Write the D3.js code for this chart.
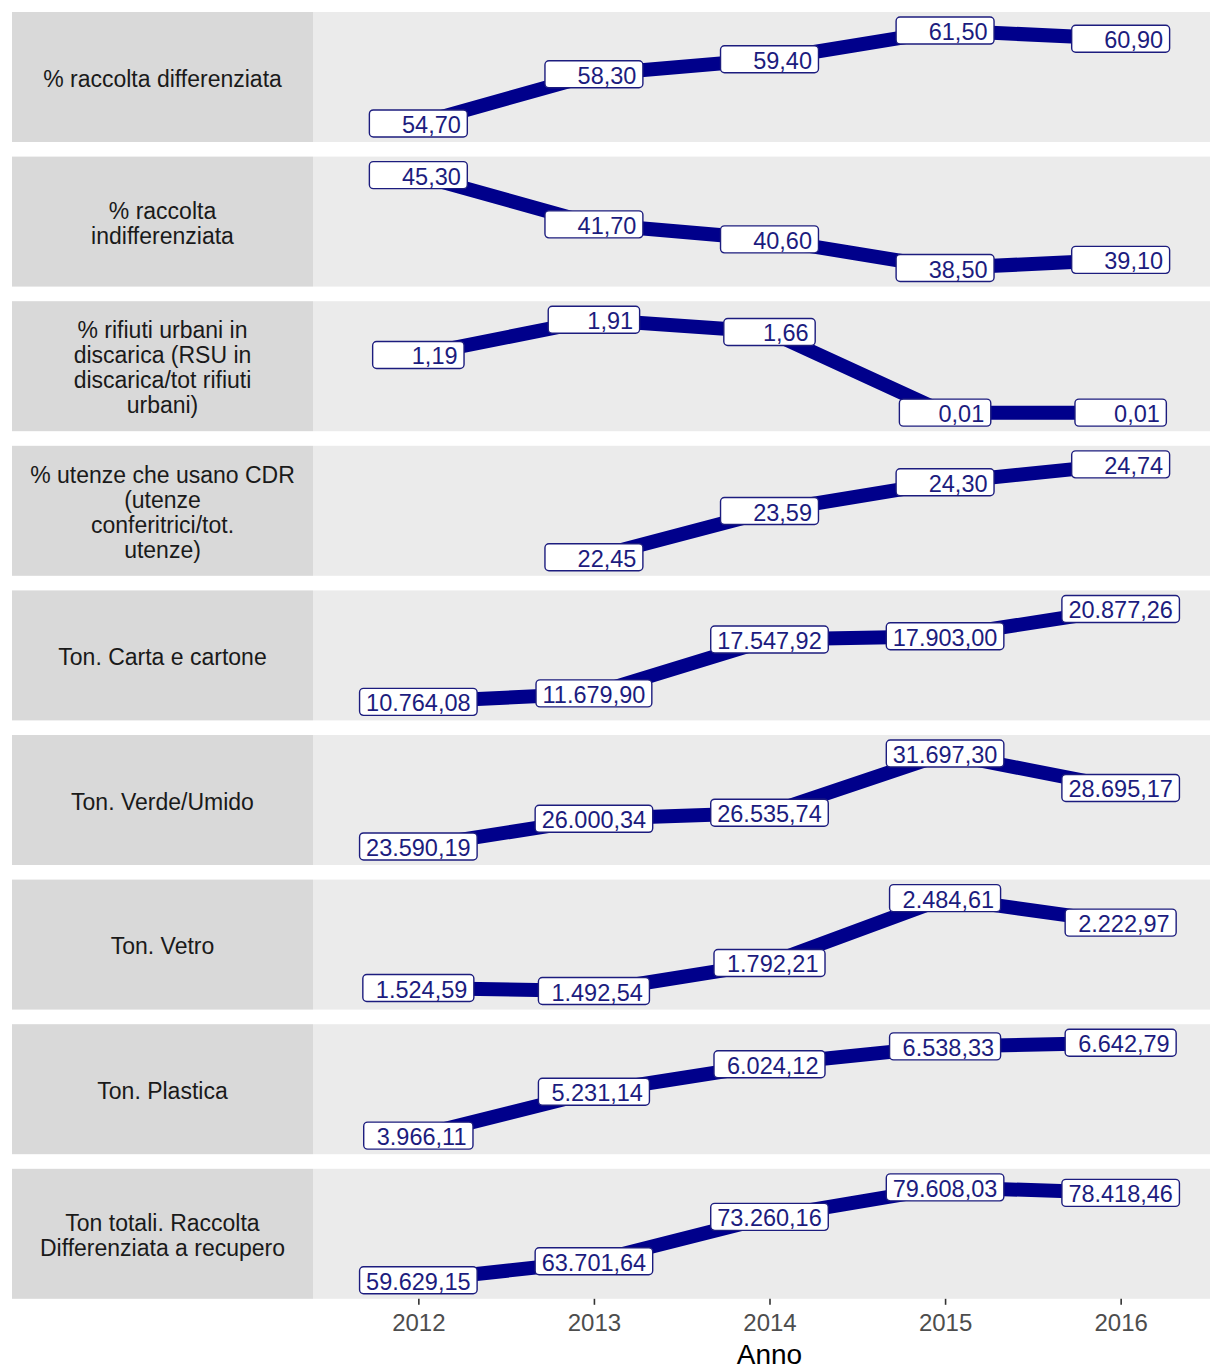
<!DOCTYPE html>
<html>
<head>
<meta charset="utf-8">
<script src="https://cdn.jsdelivr.net/npm/d3@7"></script>
<style>
  html, body { margin: 0; padding: 0; background: #ffffff; }
  svg { display: block; }
  text { font-family: "Liberation Sans", Arial, sans-serif; }
</style>
</head>
<body>
<svg id="chart" width="1210" height="1371"></svg>
<script>
// ---------- DATA ----------
const years = [2012, 2013, 2014, 2015, 2016];

const facetLabels = [
  ["% raccolta differenziata"],
  ["% raccolta", "indifferenziata"],
  ["% rifiuti urbani in", "discarica (RSU in", "discarica/tot rifiuti", "urbani)"],
  ["% utenze che usano CDR", "(utenze", "conferitrici/tot.", "utenze)"],
  ["Ton. Carta e cartone"],
  ["Ton. Verde/Umido"],
  ["Ton. Vetro"],
  ["Ton. Plastica"],
  ["Ton totali. Raccolta", "Differenziata a recupero"]
];

const raccoltaDifferenziata   = [54.70, 58.30, 59.40, 61.50, 60.90];
const raccoltaIndifferenziata = [45.30, 41.70, 40.60, 38.50, 39.10];
const rifiutiDiscarica        = [1.19, 1.91, 1.66, 0.01, 0.01];
const utenzeCDR               = [null, 22.45, 23.59, 24.30, 24.74];
const tonCarta                = [10764.08, 11679.90, 17547.92, 17903.00, 20877.26];
const tonVerdeUmido           = [23590.19, 26000.34, 26535.74, 31697.30, 28695.17];
const tonVetro                = [1524.59, 1492.54, 1792.21, 2484.61, 2222.97];
const tonPlastica             = [3966.11, 5231.14, 6024.12, 6538.33, 6642.79];
const tonTotali               = [59629.15, 63701.64, 73260.16, 79608.03, 78418.46];

const seriesValues = [
  raccoltaDifferenziata, raccoltaIndifferenziata, rifiutiDiscarica, utenzeCDR,
  tonCarta, tonVerdeUmido, tonVetro, tonPlastica, tonTotali
];

const xTickLabels = ["2012", "2013", "2014", "2015", "2016"];
const xAxisTitle = "Anno";

// ---------- LAYOUT ----------
const svg = d3.select("#chart");
const stripX0 = 12, stripX1 = 313;
const panelX0 = 313, panelX1 = 1226;
const firstTop = 12, panelH = 130, panelStep = 144.6;
const lineColor = "#00008B";
const labelColor = "#1c1c7e";

const itLocale = d3.formatLocale({decimal: ",", thousands: ".", grouping: [3], currency: ["", "€"]});
const fmt = itLocale.format(",.2f");
const padLabel = s => " ".repeat(Math.max(0, 9 - s.length)) + s;

const x = d3.scaleLinear().domain([2011.4, 2016.6]).range([panelX0, panelX1]);

seriesValues.forEach((vals, i) => {
  const top = firstTop + i * panelStep;
  const bottom = top + panelH;
  const data = years.map((yr, j) => ({year: yr, value: vals[j]})).filter(d => d.value !== null);
  const ext = d3.extent(data, d => d.value);
  const r = ext[1] - ext[0];
  const y = d3.scaleLinear().domain([ext[0] - 0.2 * r, ext[1] + 0.2 * r]).range([bottom, top]);

  const g = svg.append("g");
  // strip
  g.append("rect").attr("x", stripX0).attr("y", top).attr("width", stripX1 - stripX0).attr("height", panelH)
    .attr("fill", "#D9D9D9");
  // panel
  g.append("rect").attr("x", panelX0).attr("y", top).attr("width", 1210 - panelX0).attr("height", panelH)
    .attr("fill", "#EBEBEB");

  // strip text
  const lines = facetLabels[i];
  const lh = 25;
  const cy = top + panelH / 2 + 1.5;
  const st = g.append("text")
    .attr("x", (stripX0 + stripX1) / 2)
    .attr("text-anchor", "middle")
    .attr("font-size", 23)
    .attr("fill", "#1A1A1A");
  lines.forEach((ln, k) => {
    st.append("tspan")
      .attr("x", (stripX0 + stripX1) / 2)
      .attr("y", cy + (k - (lines.length - 1) / 2) * lh)
      .attr("dominant-baseline", "central")
      .text(ln);
  });

  // line
  const line = d3.line().x(d => x(d.year)).y(d => y(d.value));
  g.append("path").datum(data).attr("d", line)
    .attr("fill", "none").attr("stroke", lineColor).attr("stroke-width", 14)
    .attr("stroke-linejoin", "round");

  // labels
  data.forEach(d => {
    const cx = x(d.year), cyy = y(d.value);
    const lg = g.append("g");
    const rect = lg.append("rect");
    const t = lg.append("text")
      .attr("font-size", 23.5)
      .attr("fill", labelColor)
      .attr("text-anchor", "middle")
      .attr("dominant-baseline", "central")
      .style("white-space", "pre")
      .attr("x", cx).attr("y", cyy + 1.5)
      .text(padLabel(fmt(d.value)));
    const w = t.node().getComputedTextLength();
    const pad = 6.5, h = 27;
    rect.attr("x", cx - w / 2 - pad).attr("y", cyy - h / 2)
      .attr("width", w + 2 * pad).attr("height", h)
      .attr("rx", 4).attr("ry", 4)
      .attr("fill", "#ffffff").attr("stroke", labelColor).attr("stroke-width", 1.4);
  });
});

// x axis
const axisY = firstTop + 8 * panelStep + panelH;
const axis = svg.append("g").attr("transform", `translate(0,${axisY})`)
  .call(d3.axisBottom(x).tickValues(years).tickFormat((d, j) => xTickLabels[j]).tickSize(6).tickPadding(9));
axis.select(".domain").remove();
axis.selectAll(".tick line").attr("stroke", "#333333").attr("stroke-width", 1.6);
axis.selectAll(".tick text").attr("font-size", 24).attr("fill", "#4D4D4D")
  .attr("font-family", "'Liberation Sans', Arial, sans-serif");

svg.append("text")
  .attr("x", (panelX0 + panelX1) / 2)
  .attr("y", 1364)
  .attr("text-anchor", "middle")
  .attr("font-size", 28)
  .attr("fill", "#000000")
  .text(xAxisTitle);
</script>
</body>
</html>
